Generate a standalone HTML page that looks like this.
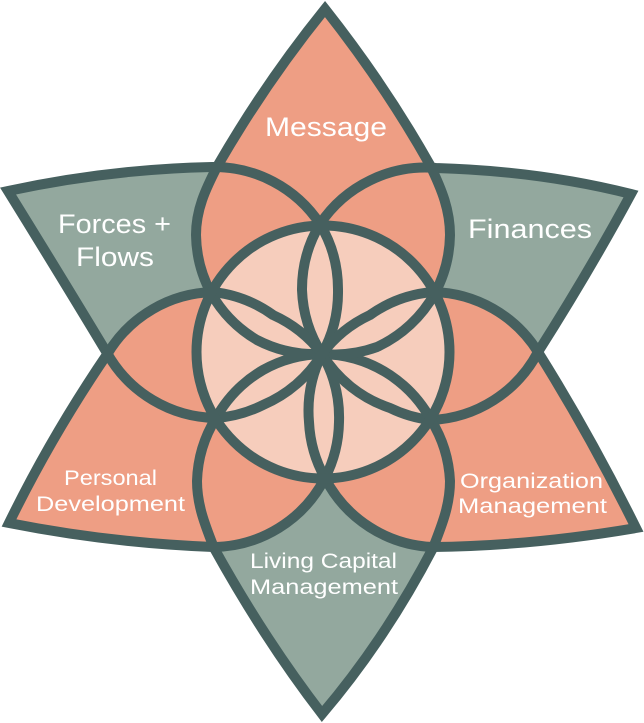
<!DOCTYPE html>
<html><head><meta charset="utf-8"><style>
html,body{margin:0;padding:0;background:#fff}
svg{display:block}
text{font-family:"Liberation Sans",sans-serif;fill:#fff;font-size:26px;text-anchor:start}
</style></head><body>
<svg width="644" height="723" viewBox="0 0 644 723" xmlns="http://www.w3.org/2000/svg">
<defs>
<path id="ul" d="M8 191Q110 169 212 167A127 127 0 0 1 320 224A127 127 0 0 1 338 290A127 127 0 0 1 322 354A127 127 0 0 1 263 405A127 127 0 0 1 216 418A127 127 0 0 1 107 353Q60 275 8 191Z"/>
<path id="ur" d="M631 194Q540 171 436 168A127 127 0 0 0 320 224A127 127 0 0 0 302 290A127 127 0 0 0 322 354A127 127 0 0 0 390 408A127 127 0 0 0 431 420A127 127 0 0 0 538 352Q590 270 631 194Z"/>
<path id="b" d="M322 714Q265 640 214 548C205 525 197 505 197 481A127 127 0 0 1 216 418A127 127 0 0 1 263 370A127 127 0 0 1 322 354A127 127 0 0 1 390 375A127 127 0 0 1 431 420A127 127 0 0 1 450 481C450 505 442 525 433 548Q385 640 322 714Z"/>
<path id="t" d="M325 9Q266 82 218 165C205 190 196 210 196 235A127 127 0 0 0 211 293A127 127 0 0 0 257 340A127 127 0 0 0 322 354A127 127 0 0 0 377 347A127 127 0 0 0 435 293A127 127 0 0 0 450 235C450 210 442 190 430 165Q385 85 325 9Z"/>
<path id="ll" d="M9 523Q52 435 108 353A127 127 0 0 1 213 292A127 127 0 0 1 273 315A127 127 0 0 1 322 354A127 127 0 0 1 339 422A127 127 0 0 1 325 478A127 127 0 0 1 213 547Q110 543 9 523Z"/>
<path id="lr" d="M636 528Q590 435 538 352A127 127 0 0 0 433 292A127 127 0 0 0 370 315A127 127 0 0 0 322 354A127 127 0 0 0 309 422A127 127 0 0 0 325 478A127 127 0 0 0 433 547Q530 546 636 528Z"/>
</defs>
<g fill="#93a89e"><use href="#ul"/><use href="#ur"/><use href="#b"/></g>
<g fill="#ee9e84"><use href="#t"/><use href="#ll"/><use href="#lr"/></g>
<circle cx="323" cy="352" r="126.5" fill="#f6cdbc"/>
<g fill="none" stroke="#46605f" stroke-width="10" stroke-linejoin="miter" stroke-miterlimit="10">
<use href="#ul"/><use href="#ur"/><use href="#b"/><use href="#t"/><use href="#ll"/><use href="#lr"/>
<circle cx="323" cy="352" r="126.5"/>
</g>
<text x="265" y="136" style="font-size:27px" textLength="122" lengthAdjust="spacingAndGlyphs">Message</text>
<text x="58" y="233" style="font-size:27px" textLength="113" lengthAdjust="spacingAndGlyphs">Forces +</text>
<text x="76" y="266" style="font-size:27px" textLength="78" lengthAdjust="spacingAndGlyphs">Flows</text>
<text x="468" y="238" style="font-size:27px" textLength="124" lengthAdjust="spacingAndGlyphs">Finances</text>
<text x="64" y="485" style="font-size:21px" textLength="93" lengthAdjust="spacingAndGlyphs">Personal</text>
<text x="36" y="511" style="font-size:21px" textLength="149" lengthAdjust="spacingAndGlyphs">Development</text>
<text x="250" y="568" style="font-size:21px" textLength="147" lengthAdjust="spacingAndGlyphs">Living Capital</text>
<text x="250" y="594" style="font-size:21px" textLength="148" lengthAdjust="spacingAndGlyphs">Management</text>
<text x="460" y="488" style="font-size:21px" textLength="143" lengthAdjust="spacingAndGlyphs">Organization</text>
<text x="458" y="513" style="font-size:21px" textLength="149" lengthAdjust="spacingAndGlyphs">Management</text>
</svg>
</body></html>
